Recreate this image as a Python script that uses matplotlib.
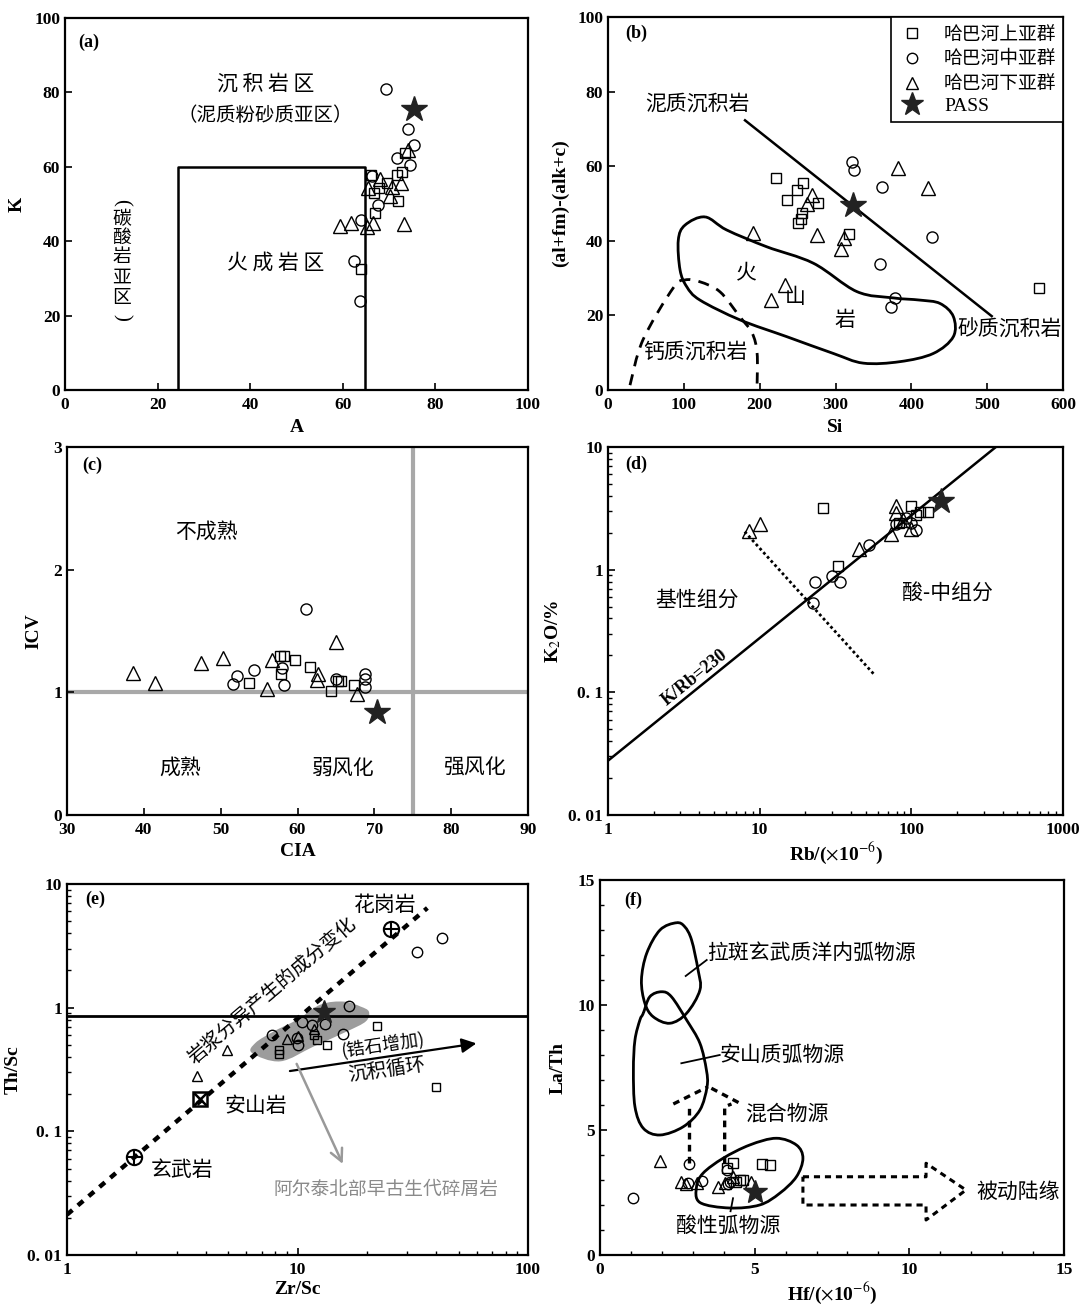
import numpy as np
import matplotlib
matplotlib.use('Agg')
import matplotlib.pyplot as plt
from matplotlib.path import Path
from matplotlib.patches import PathPatch
from matplotlib.lines import Line2D
from matplotlib.ticker import FixedLocator, NullFormatter

plt.rcParams['font.family'] = ['Liberation Serif', 'Noto Sans CJK SC', 'DejaVu Sans']
plt.rcParams['mathtext.fontset'] = 'stix'
CJK = ['Noto Sans CJK SC', 'DejaVu Sans']

# ---------------- data ----------------
# (a) A-K
a_sq_A = [73.4, 72.7, 71.6, 66.0, 69.5, 67.8, 66.7, 72.0, 67.0, 63.9]
a_sq_K = [63.8, 58.7, 57.8, 57.8, 55.7, 54.2, 53.0, 50.9, 47.5, 32.5]
a_ci_A = [69.3, 74.1, 75.3, 71.8, 74.5, 66.2, 67.5, 63.9, 62.4, 63.7]
a_ci_K = [80.8, 70.1, 65.9, 62.3, 60.5, 57.5, 49.7, 45.7, 34.8, 24.0]
a_tr_A = [74.1, 68.0, 72.5, 65.5, 70.7, 70.3, 66.6, 65.3, 61.8, 59.3, 73.2]
a_tr_K = [64.5, 56.6, 55.7, 54.2, 54.7, 52.2, 44.8, 43.9, 44.8, 44.2, 44.5]
a_pass = (75.4, 75.5)
a_box_A = [24.5, 24.5, 64.7, 64.7]
a_box_K = [0, 60, 60, 0]
a_vert_chars = ['(', '碳', '酸', '岩', '亚', '区', ')']
a_vert_K = [50.5, 46.2, 40.9, 35.8, 30.4, 24.9, 19.6]

# (b) Si-(al+fm)-(alk+c)
b_sq_Si = [221.6, 257.7, 249.0, 235.7, 277.5, 255.5, 254.2, 250.2, 318.0, 567.7]
b_sq_v = [56.8, 55.6, 53.6, 50.9, 50.2, 47.5, 45.8, 44.7, 41.8, 27.3]
b_ci_Si = [322.3, 324.5, 361.0, 427.0, 358.8, 378.6, 373.0]
b_ci_v = [61.2, 59.0, 54.5, 41.1, 33.7, 24.6, 22.3]
b_tr_Si = [268.7, 263.0, 190.9, 275.3, 311.3, 307.0, 382.2, 422.6, 233.5, 214.6]
b_tr_v = [52.3, 49.9, 42.2, 41.6, 40.7, 37.7, 59.4, 54.2, 28.2, 24.1]
b_pass = (322.8, 49.6)
b_line_Si = [180.7, 506.0]
b_line_v = [72.3, 19.8]
b_volc_Si = [127.9, 156.5, 209.3, 270.7, 328.0, 375.8, 411.4, 437.8, 455.4, 455.4,
             429.0, 385.0, 336.7, 297.1, 235.7, 174.0, 121.3, 103.8, 95.0, 92.7, 101.5]
b_volc_v = [46.4, 42.9, 38.4, 34.0, 26.4, 24.7, 24.1, 23.2, 19.7, 14.3,
            9.8, 7.6, 7.2, 9.8, 14.3, 18.8, 24.1, 27.7, 32.2, 40.2, 44.2]
b_calc_Si = [29, 46, 85.8, 101.6, 121.4, 147.8, 174, 190, 196.6, 196.6]
b_calc_v = [1.3, 13.4, 27.3, 29.5, 29.0, 26.3, 19.6, 15.3, 9.9, 1.3]

# (c) CIA-ICV
c_sq_CIA = [57.7, 58.3, 59.7, 61.6, 53.7, 57.9, 65.6, 64.4, 67.4, 65.3]
c_sq_ICV = [1.30, 1.30, 1.26, 1.21, 1.08, 1.15, 1.09, 1.01, 1.06, 1.09]
c_ci_CIA = [61.1, 54.3, 52.1, 51.6, 58.0, 58.3, 68.8, 68.8, 68.8, 65.0]
c_ci_ICV = [1.68, 1.18, 1.13, 1.07, 1.20, 1.06, 1.15, 1.11, 1.04, 1.11]
c_tr_CIA = [38.55, 41.46, 47.5, 50.35, 56.65, 56.0, 65.0, 62.7, 62.5, 67.7]
c_tr_ICV = [1.16, 1.08, 1.24, 1.28, 1.26, 1.03, 1.41, 1.15, 1.10, 0.99]
c_pass = (70.4, 0.84)

# (d) Rb-K2O
d_sq_Rb = [26.1, 99.5, 114.6, 128.0, 107.0, 32.7, 83.4]
d_sq_K = [3.18, 3.32, 2.93, 2.93, 2.81, 1.08, 2.40]
d_ci_Rb = [52.9, 23.0, 30.1, 34.0, 22.4, 107.0, 79.3, 99.0, 92.0]
d_ci_K = [1.60, 0.80, 0.89, 0.80, 0.53, 2.12, 2.37, 2.40, 2.64]
d_tr_Rb = [8.5, 10.0, 79.3, 79.3, 73.5, 45.5, 99.5, 88.0]
d_tr_K = [2.05, 2.36, 3.32, 2.90, 1.95, 1.47, 2.15, 2.55]
d_pass = (157.0, 3.6)
d_KRb = 230
d_div_Rb = [7.97, 57.1]
d_div_K = [2.04, 0.139]

# (e) Zr/Sc-Th/Sc
e_sq_Zr = [22.2, 13.4, 39.8, 8.3, 8.3, 11.8, 12.2]
e_sq_Th = [0.715, 0.50, 0.229, 0.457, 0.42, 0.605, 0.55]
e_ci_Zr = [42.2, 33.1, 16.7, 15.8, 7.76, 10.5, 13.2, 11.6, 10.1, 9.96]
e_ci_Th = [3.66, 2.80, 1.04, 0.617, 0.605, 0.76, 0.74, 0.73, 0.50, 0.57]
e_tr_Zr = [4.95, 3.66, 9.0, 10.1, 11.8]
e_tr_Th = [0.452, 0.279, 0.558, 0.59, 0.67]
e_pass = (13.0, 0.93)
e_basalt = (1.96, 0.062)
e_andesite = (3.79, 0.183)
e_granite = (25.4, 4.33)
e_hline = 0.85
e_frac_Zr = [1.0, 36.6]
e_frac_Th = [0.0212, 6.4]
e_blob_Zr = [6.35, 8.43, 11.8, 16.4, 19.8, 20.4, 18.8, 15.9, 12.6, 9.97, 7.89, 6.57]
e_blob_Th = [0.430, 0.368, 0.487, 0.643, 0.775, 0.929, 1.02, 1.12, 1.06, 0.80, 0.643, 0.519]
e_recyc = [(9.02, 0.305), (61.4, 0.518)]
e_altai = [(9.8, 0.368), (15.9, 0.052)]

# (f) Hf-La/Th
f_sq_Hf = [4.30, 5.25, 5.48, 4.09, 4.52, 4.62, 4.41]
f_sq_La = [3.67, 3.64, 3.60, 3.47, 2.99, 2.99, 2.93]
f_ci_Hf = [1.08, 2.88, 2.85, 3.31, 4.14, 4.19, 4.09]
f_ci_La = [2.27, 3.63, 2.87, 2.97, 2.84, 2.93, 3.40]
f_tr_Hf = [1.94, 2.63, 2.77, 3.12, 3.82, 4.03, 4.30, 4.89]
f_tr_La = [3.77, 2.93, 2.84, 2.87, 2.73, 2.87, 3.13, 2.93]
f_pass = (5.0, 2.53)
f_thol_Hf = [2.47, 1.94, 1.51, 1.34, 1.45, 1.72, 2.26, 2.80, 3.23, 3.17, 2.96, 2.74]
f_thol_La = [13.29, 13.0, 12.07, 11.0, 10.07, 9.53, 9.27, 9.67, 10.6, 11.4, 12.6, 13.13]
f_and_Hf = [1.40, 1.61, 1.99, 2.31, 2.80, 3.23, 3.44, 3.46, 3.23, 2.69, 1.94, 1.40, 1.13, 1.08, 1.13, 1.29]
f_and_La = [9.67, 10.33, 10.53, 10.33, 9.40, 8.47, 7.40, 6.73, 5.80, 5.13, 4.80, 5.07, 5.93, 7.40, 8.60, 9.40]
f_acid_Hf = [3.12, 3.33, 3.98, 4.84, 5.70, 6.35, 6.56, 6.35, 5.81, 5.16, 4.19, 3.23]
f_acid_La = [2.73, 3.27, 3.87, 4.40, 4.67, 4.40, 3.87, 3.13, 2.47, 2.00, 1.88, 2.10]
f_mix_left = [(2.37, 6.04), (3.49, 6.73)]
f_mix_leftv = [(2.88, 3.69), (2.88, 5.87)]
f_mix_right = [(3.60, 6.67), (4.52, 6.07)]
f_mix_rightv = [(4.03, 3.67), (4.03, 5.93), (4.25, 6.04)]
f_passive_Hf = [6.56, 10.54, 10.54, 11.83, 10.54, 10.54, 6.56, 6.56]
f_passive_La = [3.13, 3.13, 3.67, 2.60, 1.40, 2.00, 2.00, 3.13]


def smooth_path(xs, ys, closed=True, logx=False, logy=False):
    P = np.column_stack([np.log10(xs) if logx else np.asarray(xs, float),
                         np.log10(ys) if logy else np.asarray(ys, float)])
    n = len(P)
    verts = [P[0]]
    codes = [Path.MOVETO]
    segs = n if closed else n - 1
    for i in range(segs):
        p1 = P[i]
        p2 = P[(i + 1) % n]
        p0 = P[(i - 1) % n] if (closed or i > 0) else p1
        p3 = P[(i + 2) % n] if (closed or i + 2 < n) else p2
        verts += [p1 + (p2 - p0) / 6, p2 - (p3 - p1) / 6, p2]
        codes += [Path.CURVE4] * 3
    V = np.array(verts)
    if logx:
        V[:, 0] = 10 ** V[:, 0]
    if logy:
        V[:, 1] = 10 ** V[:, 1]
    return Path(V, codes)


def style_axes(ax):
    for s in ax.spines.values():
        s.set_linewidth(1.6)
    ax.tick_params(direction='in', length=5, width=1.2, labelsize=12.5,
                   top=False, right=False)
    ax.tick_params(axis='x', pad=5)
    ax.tick_params(which='minor', direction='in', length=3, width=1, top=False, right=False)
    for lab in ax.get_xticklabels() + ax.get_yticklabels():
        lab.set_fontweight('bold')


def groups(ax, sx, sy, cx, cy, tx, ty, star, ms=(6.5, 8, 9.5), star_ms=19):
    ax.plot(sx, sy, 's', ms=ms[0], mfc='none', mec='black', mew=1, zorder=5)
    ax.plot(cx, cy, 'o', ms=ms[1], mfc='none', mec='black', mew=1, zorder=5)
    ax.plot(tx, ty, '^', ms=ms[2], mfc='none', mec='black', mew=1, zorder=5)
    ax.plot([star[0]], [star[1]], '*', ms=star_ms, color='#222222', zorder=6)


def cjk(ax, x, y, s, size=14, **kw):
    ax.text(x, y, s, fontsize=size, family=CJK, ha=kw.pop('ha', 'center'),
            va=kw.pop('va', 'center'), **kw)


def label(ax, x, y, s):
    ax.text(x, y, s, fontsize=13, fontweight='bold', ha='left', va='center')


fig = plt.figure(figsize=(10.86, 13.05), dpi=100)
W, H = 1086, 1305


def add_ax(x0, y0, x1, y1):
    return fig.add_axes([x0 / W, 1 - y1 / H, (x1 - x0) / W, (y1 - y0) / H])


# ---------------- (a) ----------------
ax = add_ax(65, 18, 528, 390)
ax.set_xlim(0, 100)
ax.set_ylim(0, 100)
ax.plot(a_box_A, a_box_K, color='black', lw=1.8)
groups(ax, a_sq_A, a_sq_K, a_ci_A, a_ci_K, a_tr_A, a_tr_K, a_pass)
ax.set_xticks([0, 20, 40, 60, 80, 100])
ax.set_yticks([0, 20, 40, 60, 80, 100])
style_axes(ax)
ax.set_xlabel('A', fontsize=14, fontweight='bold', labelpad=4)
ax.set_ylabel('K', fontsize=14, fontweight='bold', labelpad=6)
label(ax, 2.8, 93.5, '(a)')
cjk(ax, 43.3, 82.5, '沉 积 岩 区', 15)
cjk(ax, 43.3, 73.9, '（泥质粉砂质亚区）', 14)
cjk(ax, 45.5, 34.1, '火 成 岩 区', 15)
for ch, kv in zip(a_vert_chars, a_vert_K):
    if ch in '()':
        ax.text(12.2, kv, ch, fontsize=15, family='Liberation Serif', rotation=-90,
                ha='center', va='center')
    else:
        cjk(ax, 12.2, kv, ch, 13.5)

# ---------------- (b) ----------------
ax = add_ax(608, 17, 1063, 390)
ax.set_xlim(0, 600)
ax.set_ylim(0, 100)
ax.plot(b_line_Si, b_line_v, color='black', lw=1.8)
ax.add_patch(PathPatch(smooth_path(b_volc_Si, b_volc_v), fill=False, lw=2, ec='black'))
ax.add_patch(PathPatch(smooth_path(b_calc_Si, b_calc_v, closed=False), fill=False,
                       lw=2, ec='black', ls=(0, (4, 3))))
groups(ax, b_sq_Si, b_sq_v, b_ci_Si, b_ci_v, b_tr_Si, b_tr_v, b_pass)
ax.set_xticks(range(0, 601, 100))
ax.set_yticks(range(0, 101, 20))
style_axes(ax)
ax.set_xlabel('Si', fontsize=14, fontweight='bold', labelpad=4)
ax.set_ylabel('(al+fm)-(alk+c)', fontsize=14, fontweight='bold', labelpad=6)
label(ax, 22.4, 95.7, '(b)')
cjk(ax, 117.4, 76.9, '泥质沉积岩', 15)
cjk(ax, 182, 31.6, '火', 15)
cjk(ax, 246.6, 24.9, '山', 15)
cjk(ax, 312.5, 18.8, '岩', 15)
cjk(ax, 530, 16.1, '砂质沉积岩', 15)
cjk(ax, 114.7, 10.2, '钙质沉积岩', 15)
handles = [
    Line2D([], [], ls='none', marker='s', ms=6.5, mfc='none', mec='black', label='哈巴河上亚群'),
    Line2D([], [], ls='none', marker='o', ms=7.5, mfc='none', mec='black', label='哈巴河中亚群'),
    Line2D([], [], ls='none', marker='^', ms=8.5, mfc='none', mec='black', label='哈巴河下亚群'),
    Line2D([], [], ls='none', marker='*', ms=17, color='#222222', label='PASS'),
]
leg = ax.legend(handles=handles, loc='upper right', borderaxespad=0, fancybox=False,
                edgecolor='black', framealpha=1, prop={'family': CJK, 'size': 13.5},
                handletextpad=0.9, labelspacing=0.2, borderpad=0.35, handlelength=1.6)
leg.get_frame().set_linewidth(1.2)
leg.get_texts()[3].set_fontfamily('Liberation Serif')
leg.get_texts()[3].set_fontsize(14)

# ---------------- (c) ----------------
ax = add_ax(67, 447, 528, 815)
ax.set_xlim(30, 90)
ax.set_ylim(0, 3)
ax.axhline(1, color='#a8a8a8', lw=3, zorder=1)
ax.axvline(75, color='#a8a8a8', lw=3, zorder=1)
groups(ax, c_sq_CIA, c_sq_ICV, c_ci_CIA, c_ci_ICV, c_tr_CIA, c_tr_ICV, c_pass)
ax.set_xticks(range(30, 91, 10))
ax.set_yticks([0, 1, 2, 3])
style_axes(ax)
ax.set_xlabel('CIA', fontsize=14, fontweight='bold', labelpad=4)
ax.set_ylabel('ICV', fontsize=14, fontweight='bold', labelpad=8)
label(ax, 32, 2.85, '(c)')
cjk(ax, 48.2, 2.31, '不成熟', 15)
cjk(ax, 44.7, 0.383, '成熟', 15)
cjk(ax, 65.9, 0.383, '弱风化', 15)
cjk(ax, 83.0, 0.383, '强风化', 15)

# ---------------- (d) ----------------
ax = add_ax(608, 447, 1063, 815)
ax.set_xscale('log')
ax.set_yscale('log')
ax.set_xlim(1, 1000)
ax.set_ylim(0.01, 10)
rb = np.array([1.0, 1000.0])
ax.plot(rb, rb * d_KRb * 1.2046e-4, color='black', lw=1.8)
ax.plot(d_div_Rb, d_div_K, color='black', lw=2, ls=(0, (1, 1)))
groups(ax, d_sq_Rb, d_sq_K, d_ci_Rb, d_ci_K, d_tr_Rb, d_tr_K, d_pass)
ax.xaxis.set_major_locator(FixedLocator([1, 10, 100, 1000]))
ax.set_xticklabels(['1', '10', '100', '1000'])
ax.yaxis.set_major_locator(FixedLocator([0.01, 0.1, 1, 10]))
ax.set_yticklabels(['0. 01', '0. 1', '1', '10'])
ax.xaxis.set_minor_formatter(NullFormatter())
ax.yaxis.set_minor_formatter(NullFormatter())
style_axes(ax)
ax.set_xlabel(r'Rb/($\times$10$^{-6}$)', fontsize=14, fontweight='bold', labelpad=2)
ax.set_ylabel(r'K$_2$O/%', fontsize=14, fontweight='bold', labelpad=4)
label(ax, 1.29, 7.17, '(d)')
cjk(ax, 3.85, 0.57, '基性组分', 15)
cjk(ax, 172.6, 0.637, '酸-中组分', 15)
ax.text(3.74, 0.132, 'K/Rb=230', fontsize=13, fontweight='bold', rotation=38.9,
        ha='center', va='center')

# ---------------- (e) ----------------
ax = add_ax(67, 884, 528, 1255)
ax.set_xscale('log')
ax.set_yscale('log')
ax.set_xlim(1, 100)
ax.set_ylim(0.01, 10)
ax.add_patch(PathPatch(smooth_path(e_blob_Zr, e_blob_Th, logx=True, logy=True),
                       fc='#9c9c9c', ec='none', zorder=2))
ax.axhline(e_hline, color='black', lw=2, zorder=3)
ax.plot(e_frac_Zr, e_frac_Th, color='black', lw=3.2, ls=(0, (1.6, 1.6)), zorder=3)
groups(ax, e_sq_Zr, e_sq_Th, e_ci_Zr, e_ci_Th, e_tr_Zr, e_tr_Th, e_pass,
       ms=(6, 7.5, 7.5), star_ms=17)
for p in [e_basalt, e_granite]:
    ax.plot([p[0]], [p[1]], 'o', ms=11, mfc='none', mec='black', mew=1.5, zorder=6)
    ax.plot([p[0]], [p[1]], '+', ms=11, color='black', mew=1.5, zorder=6)
ax.plot([e_andesite[0]], [e_andesite[1]], 's', ms=10, mfc='none', mec='black', mew=1.8, zorder=6)
ax.plot([e_andesite[0]], [e_andesite[1]], 'x', ms=8, color='black', mew=1.8, zorder=6)
ax.annotate('', xy=e_recyc[1], xytext=e_recyc[0],
            arrowprops=dict(arrowstyle='-|>', color='black', lw=1.6, mutation_scale=22))
ax.annotate('', xy=e_altai[1], xytext=e_altai[0],
            arrowprops=dict(arrowstyle='->', color='#999999', lw=1.8, mutation_scale=22))
ax.xaxis.set_major_locator(FixedLocator([1, 10, 100]))
ax.set_xticklabels(['1', '10', '100'])
ax.yaxis.set_major_locator(FixedLocator([0.01, 0.1, 1, 10]))
ax.set_yticklabels(['0. 01', '0. 1', '1', '10'])
ax.xaxis.set_minor_formatter(NullFormatter())
ax.yaxis.set_minor_formatter(NullFormatter())
style_axes(ax)
ax.set_xlabel('Zr/Sc', fontsize=14, fontweight='bold', labelpad=2)
ax.set_ylabel('Th/Sc', fontsize=14, fontweight='bold', labelpad=4)
label(ax, 1.2, 7.46, '(e)')
cjk(ax, 24.1, 6.8, '花岗岩', 15)
cjk(ax, 7.8, 1.36, '岩浆分异产生的成分变化', 14, rotation=40.4)
cjk(ax, 23.4, 0.502, '(锆石增加)', 13, rotation=8.4)
cjk(ax, 24.5, 0.315, '沉积循环', 14, rotation=8.4)
cjk(ax, 6.57, 0.159, '安山岩', 15)
cjk(ax, 3.15, 0.049, '玄武岩', 15)
cjk(ax, 24.1, 0.0338, '阿尔泰北部早古生代碎屑岩', 13.5, color='#8a8a8a')

# ---------------- (f) ----------------
ax = add_ax(600, 880, 1064, 1255)
ax.set_xlim(0, 15)
ax.set_ylim(0, 15)
for xs, ys in [(f_thol_Hf, f_thol_La), (f_and_Hf, f_and_La), (f_acid_Hf, f_acid_La)]:
    ax.add_patch(PathPatch(smooth_path(xs, ys), fill=False, lw=2, ec='black', zorder=3))
for seg in [f_mix_left, f_mix_leftv, f_mix_right, f_mix_rightv]:
    xs, ys = zip(*seg)
    ax.plot(xs, ys, color='black', lw=2.4, ls=(0, (2, 1.6)), zorder=3)
ax.plot(f_passive_Hf, f_passive_La, color='black', lw=2.2, ls=(0, (2, 1.6)), zorder=3)
groups(ax, f_sq_Hf, f_sq_La, f_ci_Hf, f_ci_La, f_tr_Hf, f_tr_La, f_pass,
       ms=(6.5, 7.5, 8), star_ms=18)
ax.plot([2.77, 3.45], [11.16, 11.8], color='black', lw=1.3)
ax.plot([2.63, 3.87], [7.67, 8.0], color='black', lw=1.3)
ax.plot([4.3, 4.22], [2.27, 1.75], color='black', lw=1.3)
ax.set_xticks([0, 5, 10, 15])
ax.set_yticks([0, 5, 10, 15])
ax.set_xticks(range(0, 16), minor=True)
ax.set_yticks(range(0, 16), minor=True)
style_axes(ax)
ax.set_xlabel(r'Hf/($\times$10$^{-6}$)', fontsize=14, fontweight='bold', labelpad=2)
ax.set_ylabel('La/Th', fontsize=14, fontweight='bold', labelpad=8)
label(ax, 0.8, 14.2, '(f)')
cjk(ax, 3.47, 12.08, '拉斑玄武质洋内弧物源', 15, ha='left')
cjk(ax, 3.87, 8.0, '安山质弧物源', 15, ha='left')
cjk(ax, 4.68, 5.67, '混合物源', 15, ha='left')
cjk(ax, 12.15, 2.53, '被动陆缘', 15, ha='left')
cjk(ax, 4.16, 1.16, '酸性弧物源', 15)

fig.savefig('out.png', dpi=100)
